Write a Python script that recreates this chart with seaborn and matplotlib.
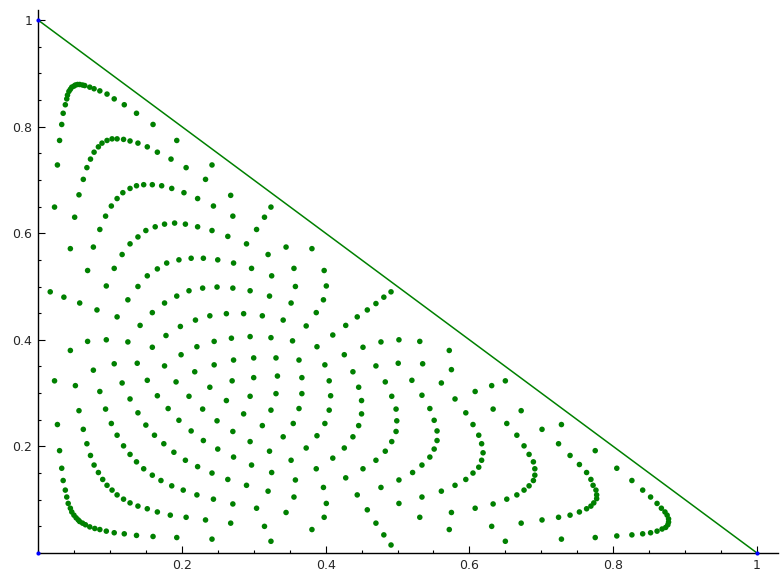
import numpy as np
import pandas as pd
import matplotlib
matplotlib.use("Agg")
import matplotlib.pyplot as plt
from matplotlib.ticker import MultipleLocator, FixedLocator
import seaborn as sns

# Points, grouped by area of the triangle (x, y)
top_arcs = [
    (0.023, 0.649), (0.027, 0.728), (0.030, 0.774), (0.033, 0.804), (0.035, 0.825),
    (0.038, 0.841), (0.040, 0.852), (0.041, 0.859), (0.043, 0.866), (0.045, 0.870),
    (0.047, 0.874), (0.050, 0.876), (0.052, 0.878), (0.055, 0.879), (0.058, 0.879),
    (0.062, 0.878), (0.065, 0.877), (0.072, 0.874), (0.078, 0.871), (0.086, 0.867),
    (0.096, 0.861), (0.106, 0.852), (0.120, 0.841), (0.137, 0.825), (0.160, 0.804),
    (0.193, 0.774), (0.233, 0.701),
    (0.051, 0.630), (0.057, 0.672), (0.063, 0.701), (0.068, 0.723), (0.073, 0.739),
    (0.078, 0.752), (0.084, 0.762), (0.089, 0.769), (0.096, 0.774), (0.103, 0.777),
    (0.110, 0.777), (0.119, 0.776), (0.128, 0.773), (0.139, 0.769), (0.152, 0.762),
    (0.166, 0.752), (0.185, 0.739), (0.206, 0.723), (0.222, 0.665),
    (0.086, 0.607), (0.094, 0.632), (0.102, 0.651), (0.110, 0.665), (0.118, 0.676),
    (0.128, 0.684), (0.137, 0.689), (0.147, 0.691), (0.159, 0.691), (0.172, 0.689),
    (0.186, 0.684), (0.203, 0.676),
    (0.128, 0.580), (0.139, 0.593), (0.150, 0.605), (0.163, 0.612), (0.176, 0.617),
    (0.190, 0.619), (0.205, 0.617), (0.222, 0.612),
    (0.242, 0.728), (0.268, 0.671), (0.244, 0.651), (0.324, 0.649), (0.271, 0.632),
    (0.315, 0.630), (0.242, 0.605), (0.304, 0.607), (0.264, 0.594), (0.290, 0.580),
]

middle_left = [
    (0.045, 0.571), (0.077, 0.574), (0.117, 0.560), (0.069, 0.530), (0.106, 0.534),
    (0.179, 0.544), (0.166, 0.533), (0.196, 0.550), (0.213, 0.553), (0.230, 0.553),
    (0.152, 0.520), (0.095, 0.501), (0.139, 0.500), (0.017, 0.490), (0.036, 0.480),
    (0.058, 0.469), (0.082, 0.456), (0.110, 0.443), (0.142, 0.427), (0.125, 0.475),
    (0.176, 0.469), (0.159, 0.451), (0.193, 0.482), (0.210, 0.492), (0.229, 0.497),
    (0.239, 0.445), (0.219, 0.437), (0.198, 0.425), (0.178, 0.408), (0.045, 0.380),
    (0.069, 0.397), (0.095, 0.400), (0.125, 0.396), (0.159, 0.386), (0.199, 0.372),
    (0.221, 0.387), (0.077, 0.343), (0.106, 0.355), (0.138, 0.356), (0.176, 0.351),
    (0.218, 0.340), (0.023, 0.323), (0.052, 0.314), (0.086, 0.303), (0.117, 0.319),
    (0.152, 0.324), (0.192, 0.321), (0.239, 0.311), (0.128, 0.289), (0.166, 0.295),
    (0.210, 0.294),
]

middle_right = [
    (0.345, 0.574), (0.381, 0.571), (0.250, 0.550), (0.272, 0.544), (0.320, 0.560),
    (0.297, 0.534), (0.356, 0.534), (0.398, 0.530), (0.325, 0.520), (0.249, 0.499),
    (0.271, 0.497), (0.295, 0.492), (0.322, 0.482), (0.358, 0.500), (0.401, 0.501),
    (0.352, 0.469), (0.397, 0.475), (0.458, 0.456), (0.262, 0.449), (0.286, 0.449),
    (0.312, 0.445), (0.341, 0.437), (0.373, 0.426), (0.387, 0.451), (0.444, 0.443),
    (0.428, 0.427), (0.410, 0.409), (0.388, 0.387), (0.452, 0.386), (0.245, 0.397),
    (0.269, 0.403), (0.295, 0.406), (0.324, 0.404), (0.354, 0.398), (0.245, 0.353),
    (0.272, 0.362), (0.300, 0.366), (0.331, 0.366), (0.363, 0.362), (0.399, 0.353),
    (0.426, 0.372), (0.438, 0.340), (0.270, 0.323), (0.300, 0.329), (0.333, 0.332),
    (0.367, 0.329), (0.405, 0.323), (0.446, 0.311), (0.295, 0.294), (0.331, 0.299),
    (0.367, 0.299), (0.407, 0.295), (0.262, 0.286), (0.450, 0.286), (0.491, 0.490),
    (0.481, 0.480), (0.470, 0.468), (0.477, 0.396), (0.502, 0.400), (0.531, 0.397),
    (0.572, 0.380), (0.470, 0.351), (0.501, 0.356), (0.535, 0.355), (0.575, 0.344),
    (0.483, 0.321), (0.520, 0.324), (0.561, 0.319), (0.608, 0.303), (0.631, 0.314),
    (0.650, 0.323), (0.492, 0.294), (0.534, 0.296), (0.580, 0.289),
]

bottom_left = [
    (0.057, 0.267), (0.094, 0.270), (0.139, 0.263), (0.181, 0.271), (0.229, 0.270),
    (0.027, 0.241), (0.063, 0.232), (0.102, 0.243), (0.150, 0.240), (0.196, 0.249),
    (0.213, 0.229), (0.030, 0.192), (0.068, 0.205), (0.110, 0.221), (0.162, 0.221),
    (0.175, 0.205), (0.230, 0.211), (0.033, 0.159), (0.073, 0.183), (0.119, 0.201),
    (0.128, 0.185), (0.189, 0.189), (0.205, 0.174), (0.222, 0.162), (0.078, 0.165),
    (0.137, 0.171), (0.147, 0.158), (0.159, 0.146), (0.084, 0.151), (0.035, 0.136),
    (0.090, 0.138), (0.096, 0.127), (0.103, 0.118), (0.110, 0.109), (0.119, 0.101),
    (0.128, 0.094), (0.139, 0.088), (0.152, 0.083), (0.166, 0.077), (0.184, 0.071),
    (0.206, 0.067), (0.233, 0.062), (0.171, 0.136), (0.186, 0.126), (0.202, 0.118),
    (0.221, 0.109), (0.038, 0.118), (0.040, 0.105), (0.042, 0.093), (0.045, 0.084),
    (0.047, 0.077), (0.050, 0.071), (0.053, 0.066), (0.056, 0.062), (0.058, 0.059),
    (0.062, 0.056), (0.066, 0.053), (0.072, 0.049), (0.079, 0.046), (0.086, 0.044),
    (0.095, 0.041), (0.106, 0.038), (0.120, 0.036), (0.137, 0.033), (0.160, 0.031),
    (0.193, 0.029),
]

bottom_middle = [
    (0.286, 0.261), (0.324, 0.268), (0.363, 0.271), (0.405, 0.268), (0.450, 0.261),
    (0.249, 0.248), (0.312, 0.239), (0.355, 0.243), (0.399, 0.243), (0.446, 0.239),
    (0.271, 0.228), (0.295, 0.209), (0.341, 0.218), (0.388, 0.220), (0.438, 0.218),
    (0.250, 0.195), (0.322, 0.191), (0.373, 0.197), (0.426, 0.197), (0.272, 0.180),
    (0.352, 0.174), (0.410, 0.178), (0.297, 0.165), (0.387, 0.158), (0.452, 0.158),
    (0.242, 0.150), (0.325, 0.151), (0.428, 0.141), (0.264, 0.138), (0.358, 0.137),
    (0.290, 0.127), (0.397, 0.123), (0.320, 0.116), (0.444, 0.109), (0.244, 0.101),
    (0.356, 0.105), (0.271, 0.092), (0.401, 0.093), (0.304, 0.084), (0.458, 0.081),
    (0.345, 0.076), (0.268, 0.056), (0.398, 0.067), (0.315, 0.050), (0.381, 0.044),
    (0.242, 0.026), (0.324, 0.022),
]

bottom_right = [
    (0.498, 0.270), (0.545, 0.271), (0.595, 0.263), (0.633, 0.270), (0.672, 0.267),
    (0.499, 0.248), (0.551, 0.249), (0.605, 0.241), (0.652, 0.243), (0.498, 0.228),
    (0.555, 0.229), (0.613, 0.221), (0.666, 0.221), (0.492, 0.209), (0.555, 0.211),
    (0.617, 0.205), (0.676, 0.201), (0.483, 0.191), (0.551, 0.195), (0.619, 0.188),
    (0.683, 0.185), (0.470, 0.174), (0.545, 0.180), (0.617, 0.174), (0.534, 0.165),
    (0.613, 0.161), (0.521, 0.151), (0.605, 0.150), (0.502, 0.137), (0.595, 0.138),
    (0.477, 0.123), (0.580, 0.127), (0.561, 0.116), (0.683, 0.126), (0.676, 0.118),
    (0.666, 0.109), (0.652, 0.101), (0.633, 0.092), (0.608, 0.084), (0.534, 0.105),
    (0.502, 0.093), (0.575, 0.076), (0.531, 0.067), (0.470, 0.056), (0.672, 0.056),
    (0.631, 0.050), (0.572, 0.044), (0.481, 0.034), (0.650, 0.022), (0.491, 0.015),
]

right_corner = [
    (0.728, 0.241), (0.701, 0.232), (0.724, 0.205), (0.775, 0.192), (0.740, 0.183),
    (0.689, 0.171), (0.753, 0.166), (0.805, 0.159), (0.691, 0.158), (0.763, 0.151),
    (0.691, 0.146), (0.689, 0.136), (0.769, 0.138), (0.826, 0.136), (0.772, 0.127),
    (0.776, 0.118), (0.841, 0.118), (0.777, 0.109), (0.777, 0.102), (0.852, 0.105),
    (0.773, 0.094), (0.769, 0.088), (0.861, 0.093), (0.763, 0.083), (0.867, 0.084),
    (0.753, 0.077), (0.872, 0.077), (0.740, 0.071), (0.875, 0.071), (0.724, 0.067),
    (0.877, 0.064), (0.701, 0.062), (0.877, 0.058), (0.876, 0.053), (0.873, 0.048),
    (0.868, 0.045), (0.861, 0.041), (0.852, 0.038), (0.841, 0.036), (0.826, 0.034),
    (0.805, 0.032), (0.775, 0.029), (0.728, 0.026),
]

simplex_x = [0.0, 1.0]
simplex_y = [1.0, 0.0]
vertices_x = [0.0, 0.0, 1.0]
vertices_y = [0.0, 1.0, 0.0]

tick_values = [0.2, 0.4, 0.6, 0.8, 1.0]
tick_labels = ["0.2", "0.4", "0.6", "0.8", "1"]

sns.set_style("white")
plt.rcParams['font.family'] = ['DejaVu Sans']

pts = pd.DataFrame(top_arcs + middle_left + middle_right + bottom_left
                   + bottom_middle + bottom_right + right_corner, columns=['x', 'y'])

fig = plt.figure(figsize=(7.81, 5.84), dpi=100)
ax = fig.add_axes([38 / 781, 31 / 584, 740 / 781, 543 / 584])

ax.plot(simplex_x, simplex_y, color='#008000', linewidth=1.1, zorder=2)
sns.scatterplot(data=pts, x='x', y='y', ax=ax, color='#008000', s=16,
                edgecolor='none', linewidth=0, zorder=3, legend=False)
ax.scatter(vertices_x, vertices_y, color='#0000ff', s=9, linewidth=0,
           zorder=5, clip_on=False)

ax.set_xlim(0, 740 / 719)
ax.set_ylim(0, 543 / 533)
ax.set_xlabel('')
ax.set_ylabel('')

for side in ['top', 'right']:
    ax.spines[side].set_visible(False)
for side in ['left', 'bottom']:
    ax.spines[side].set_color('black')
    ax.spines[side].set_linewidth(1.0)

ax.xaxis.set_major_locator(FixedLocator(tick_values))
ax.yaxis.set_major_locator(FixedLocator(tick_values))
ax.set_xticklabels(tick_labels)
ax.set_yticklabels(tick_labels)
ax.xaxis.set_minor_locator(MultipleLocator(0.05))
ax.yaxis.set_minor_locator(MultipleLocator(0.05))
ax.tick_params(which='both', direction='in', color='black', width=0.8,
               bottom=True, left=True, top=False, right=False)
ax.tick_params(which='major', length=5, labelsize=9, pad=4)
ax.tick_params(which='minor', length=2.5)

fig.savefig('out.png', dpi=100)
